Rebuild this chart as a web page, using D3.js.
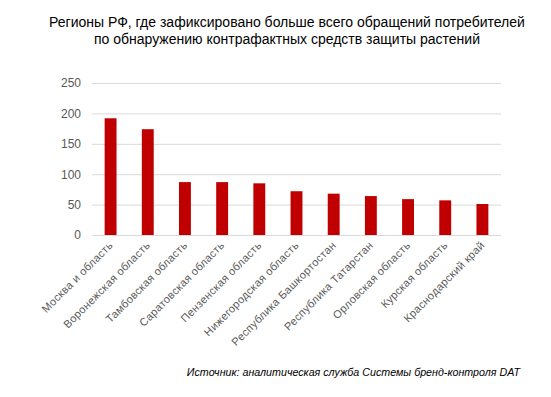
<!DOCTYPE html>
<html>
<head>
<meta charset="utf-8">
<script src="https://cdn.jsdelivr.net/npm/d3@7"></script>
<style>
  body { margin: 0; background: #fff; }
  svg { display: block; }
</style>
</head>
<body>
<svg id="chart"></svg>
<script>
/* data */
var regions = [
    'Москва и область',
    'Воронежская область',
    'Тамбовская область',
    'Саратовская область',
    'Пензенская область',
    'Нижегородская область',
    'Республика Башкортостан',
    'Республика Татарстан',
    'Орловская область',
    'Курская область',
    'Краснодарский край'
];
var complaints = [192, 174, 87, 87, 85, 72, 68, 64, 59, 57, 51];
var yTicks = [0, 50, 100, 150, 200, 250];
var titleLines = [
    'Регионы РФ, где зафиксировано больше всего обращений потребителей',
    'по обнаружению контрафактных средств защиты растений'
];
var source = 'Источник: аналитическая служба Системы бренд-контроля DAT';

var width = 551;
var height = 397;
var margin = {top: 83, right: 50, bottom: 162, left: 92};
var font = 'Arial, "Liberation Sans", sans-serif';

var svg = d3.select('#chart')
    .attr('width', width)
    .attr('height', height);

var x = d3.scaleBand()
    .domain(regions)
    .range([margin.left, width - margin.right])
    .paddingInner(0.68)
    .paddingOuter(0.34);

var y = d3.scaleLinear()
    .domain([0, 250])
    .range([height - margin.bottom, margin.top]);

/* gridlines + y labels */
var yAxis = svg.append('g')
    .attr('transform', 'translate(' + margin.left + ',0)')
    .call(d3.axisLeft(y)
        .tickValues(yTicks)
        .tickSize(-(width - margin.left - margin.right))
        .tickPadding(11));
yAxis.select('.domain').remove();
yAxis.selectAll('line')
    .attr('stroke', '#d9d9d9')
    .attr('stroke-width', 1);
yAxis.selectAll('text')
    .attr('fill', '#595959')
    .style('font-family', font)
    .style('font-size', '12px');

/* bars */
svg.selectAll('rect.bar')
    .data(complaints)
    .enter()
    .append('rect')
    .attr('class', 'bar')
    .attr('x', function(d, i){ return x(regions[i]); })
    .attr('y', function(d){ return y(d); })
    .attr('width', x.bandwidth())
    .attr('height', function(d){ return y(0) - y(d); })
    .attr('fill', '#c00000');

/* category labels */
svg.selectAll('text.cat')
    .data(regions)
    .enter()
    .append('text')
    .attr('class', 'cat')
    .attr('transform', function(d){
        return 'translate(' + (x(d) + x.bandwidth() / 2 + 3) + ',' + (y(0) + 11) + ') rotate(-45)';
    })
    .attr('text-anchor', 'end')
    .attr('fill', '#595959')
    .style('font-family', font)
    .style('font-size', '11px')
    .style('letter-spacing', '0.3px')
    .text(function(d){ return d; });

/* title */
svg.selectAll('text.title')
    .data(titleLines)
    .enter()
    .append('text')
    .attr('class', 'title')
    .attr('x', 287)
    .attr('y', function(d, i){ return 27 + i * 17; })
    .attr('text-anchor', 'middle')
    .attr('fill', '#000')
    .style('font-family', font)
    .style('font-size', '14px')
    .text(function(d){ return d; });

/* source note */
svg.append('text')
    .attr('x', 520)
    .attr('y', 376)
    .attr('text-anchor', 'end')
    .attr('fill', '#000')
    .style('font-family', font)
    .style('font-size', '10.7px')
    .style('font-style', 'italic')
    .text(source);
</script>
</body>
</html>
